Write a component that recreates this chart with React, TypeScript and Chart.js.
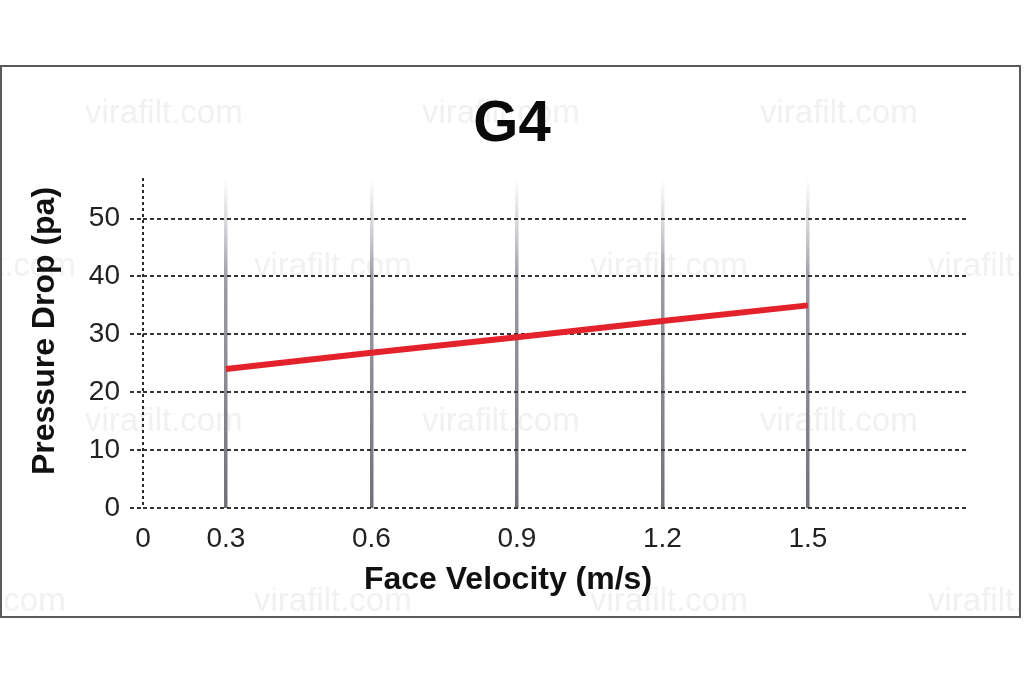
import React, { useEffect, useRef } from "react";
import { Chart, registerables } from "chart.js";

Chart.register(...registerables);

// ---- data ----
const chartTitle = "G4";
const xAxisTitle = "Face Velocity (m/s)";
const yAxisTitle = "Pressure Drop (pa)";
const velocities = [0.3, 0.6, 0.9, 1.2, 1.5];
const pressureDrops = [24, 26.8, 29.5, 32.3, 35];
const xTickValues = [0.3, 0.6, 0.9, 1.2, 1.5];
const xOriginLabel = "0";
const yTickValues = [0, 10, 20, 30, 40, 50];
const watermarkText = "virafilt.com";

// ---- scale ranges ----
const X_MIN = 0.129;
const X_MAX = 1.826;
const Y_MIN = 0;
const Y_MAX = 57;

const FONT = "'Liberation Sans', Arial, Helvetica, sans-serif";

const decorPlugin = {
  id: "decor",
  beforeDraw(chart: any) {
    const ctx = chart.ctx as CanvasRenderingContext2D;
    ctx.save();
    // watermarks
    ctx.fillStyle = "rgba(232,232,232,0.6)";
    ctx.font = `33px ${FONT}`;
    ctx.textBaseline = "alphabetic";
    ctx.textAlign = "left";
    const rows = [
      { y: 123, xs: [85, 422, 760] },
      { y: 276, xs: [-82, 254, 590, 928] },
      { y: 431, xs: [85, 422, 760] },
      { y: 611, xs: [-92, 254, 590, 928] },
    ];
    rows.forEach((r) => r.xs.forEach((x) => ctx.fillText(watermarkText, x, r.y)));
    // frame
    ctx.strokeStyle = "#5a5a5a";
    ctx.lineWidth = 2;
    ctx.strokeRect(1, 66, 1019, 551);
    // title
    ctx.fillStyle = "#0a0a0a";
    ctx.font = `bold 58px ${FONT}`;
    ctx.textAlign = "center";
    ctx.fillText(chartTitle, 512, 141);
    ctx.restore();
  },
  afterDraw(chart: any) {
    const ctx = chart.ctx as CanvasRenderingContext2D;
    const area = chart.chartArea;
    const xScale = chart.scales.x;
    const x0 = xScale.getPixelForValue(X_MIN);
    ctx.save();
    // dotted y axis line
    ctx.strokeStyle = "#2a2a2a";
    ctx.lineWidth = 2;
    ctx.setLineDash([3, 3]);
    ctx.beginPath();
    ctx.moveTo(x0, area.top);
    ctx.lineTo(x0, area.bottom);
    ctx.stroke();
    ctx.setLineDash([]);
    // axis titles
    ctx.fillStyle = "#111";
    ctx.font = `bold 32px ${FONT}`;
    ctx.textAlign = "center";
    ctx.textBaseline = "middle";
    ctx.fillText(xAxisTitle, 508, 580);
    ctx.translate(45, 331);
    ctx.rotate(-Math.PI / 2);
    ctx.fillText(yAxisTitle, 0, 0);
    ctx.restore();
  },
};

export default function App() {
  const canvasRef = useRef<HTMLCanvasElement | null>(null);

  useEffect(() => {
    if (!canvasRef.current) return;
    const chart = new Chart(canvasRef.current, {
      type: "line",
      data: {
        datasets: [
          {
            data: velocities.map((v, i) => ({ x: v, y: pressureDrops[i] })),
            borderColor: "#e4222b",
            borderWidth: 6,
            pointRadius: 0,
            tension: 0,
            borderCapStyle: "butt",
            fill: false,
          },
        ],
      },
      options: {
        animation: false,
        responsive: true,
        maintainAspectRatio: false,
        layout: { padding: { left: 0, top: 178, right: 58, bottom: 64 } },
        plugins: {
          legend: { display: false },
          tooltip: { enabled: false },
          title: { display: false },
        },
        scales: {
          x: {
            type: "linear",
            min: X_MIN,
            max: X_MAX,
            afterBuildTicks: (s: any) => {
              s.ticks = [X_MIN, ...xTickValues].map((v) => ({ value: v }));
            },
            afterFit: (s: any) => {
              s.height = 110;
            },
            border: { display: false },
            grid: {
              drawTicks: false,
              lineWidth: 3.5,
              color: (c: any) => {
                const v = c.tick ? c.tick.value : null;
                if (v === X_MIN) return "rgba(0,0,0,0)";
                const area = c.chart.chartArea;
                if (!area) return "#888";
                const g = c.chart.ctx.createLinearGradient(0, area.top, 0, area.bottom);
                g.addColorStop(0, "rgba(160,160,170,0)");
                g.addColorStop(0.3, "rgba(140,140,150,0.85)");
                g.addColorStop(1, "rgba(112,112,120,1)");
                return g;
              },
            },
            ticks: {
              autoSkip: false,
              maxRotation: 0,
              padding: 14,
              color: "#222",
              font: { family: FONT, size: 28 },
              callback: (v: any) => (v === X_MIN ? xOriginLabel : Number(v).toFixed(1)),
            },
            title: { display: false },
          },
          y: {
            type: "linear",
            min: Y_MIN,
            max: Y_MAX,
            afterBuildTicks: (s: any) => {
              s.ticks = yTickValues.map((v) => ({ value: v }));
            },
            afterFit: (s: any) => {
              s.width = 143;
            },
            border: { display: false, dash: [4, 3] },
            grid: {
              color: "#333",
              lineWidth: 2,
              drawTicks: true,
              tickLength: 13,
              tickColor: "#333",
              tickWidth: 2,
              tickBorderDash: [4, 3],
            },
            ticks: {
              padding: 10,
              color: "#222",
              font: { family: FONT, size: 28 },
            },
            title: { display: false },
          },
        },
      } as any,
      plugins: [decorPlugin],
    });
    return () => chart.destroy();
  }, []);

  return (
    <div style={{ position: "fixed", left: 0, top: 0, width: 1024, height: 682, background: "#fff" }}>
      <canvas ref={canvasRef} />
    </div>
  );
}
